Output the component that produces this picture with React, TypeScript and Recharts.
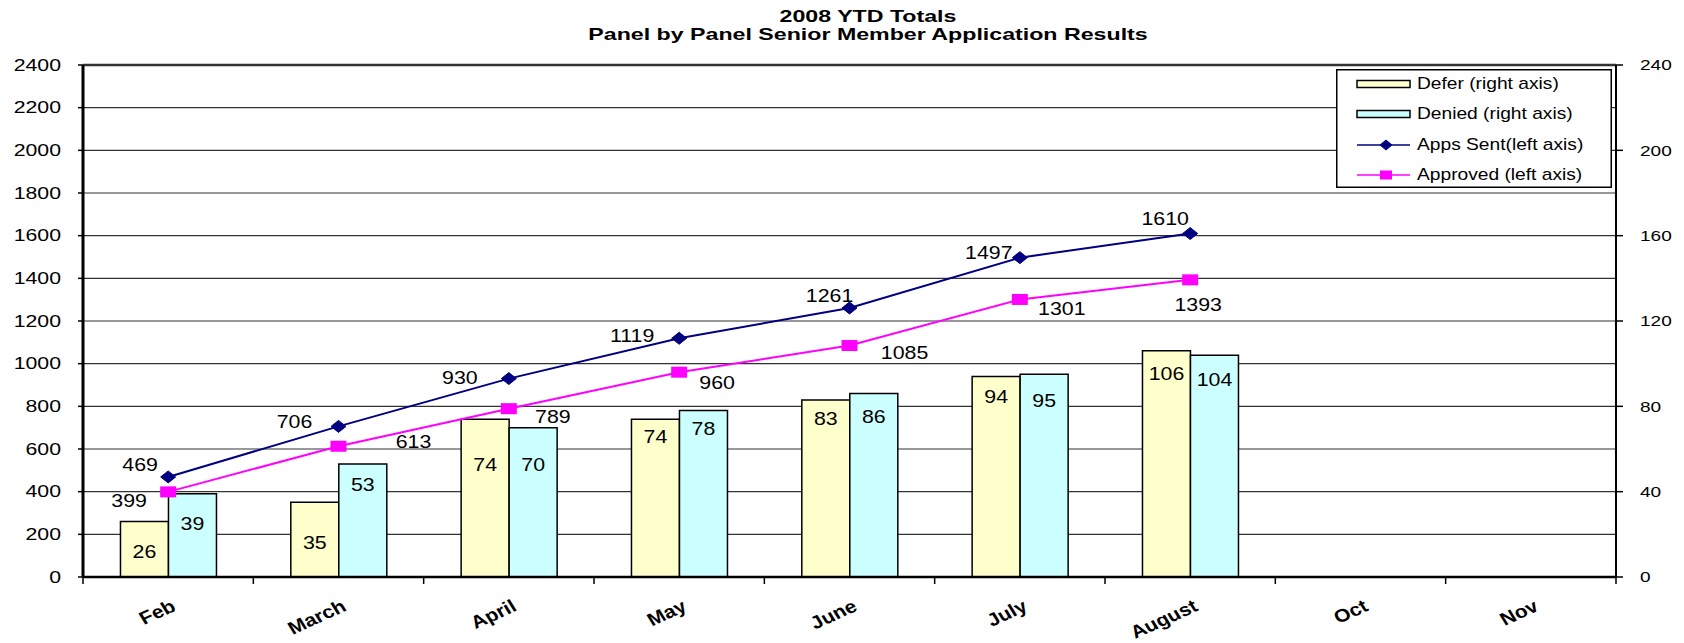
import * as React from "react";
import {
  Bar,
  CartesianGrid,
  ComposedChart,
  LabelList,
  Legend,
  Line,
  XAxis,
  YAxis,
} from "recharts";

// --- data ---
const months = ["Feb", "March", "April", "May", "June", "July", "August", "Oct", "Nov"];
const deferCounts = [26, 35, 74, 74, 83, 94, 106, null, null];
const deniedCounts = [39, 53, 70, 78, 86, 95, 104, null, null];
const appsSentTotals = [469, 706, 930, 1119, 1261, 1497, 1610, null, null];
const approvedTotals = [399, 613, 789, 960, 1085, 1301, 1393, null, null];
const leftTicks = [0, 200, 400, 600, 800, 1000, 1200, 1400, 1600, 1800, 2000, 2200, 2400];
const rightTicks = [0, 40, 80, 120, 160, 200, 240];

// label placement, the way Excel left them (px from point / bar top)
const appsLabelOffsets = [[-28, -12], [-44, -5], [-49, -1], [-47, -3], [-20, -12], [-31, -5], [-25, -15]];
const approvedLabelOffsets = [[-39, 9], [75, -5], [44, 8], [38, 11], [55, 7], [42, 9], [8, 25]];
const deferLabelDrop = [30, 40, 46, 18, 19, 20, 23];
const deniedLabelDrop = [30, 21, 37, 18, 23, 26, 25];

const data = months.map((m, i) => ({
  month: m,
  defer: deferCounts[i],
  denied: deniedCounts[i],
  appsSent: appsSentTotals[i],
  approved: approvedTotals[i],
}));

const W = 1684;
const H = 643;
const PLOT_LEFT = 83;
const PLOT_RIGHT = 1616;
const PLOT_TOP = 65;
const PLOT_BOTTOM = 577;
const BAND = (PLOT_RIGHT - PLOT_LEFT) / months.length;
const FONT = '"Liberation Sans", Arial, sans-serif';

const DEFER = "#FFFFCC";
const DENIED = "#CCFFFF";
const NAVY = "#000080";
const MAGENTA = "#FF00FF";

// Excel output is stretched sideways, so text gets a horizontal scale
function SText({ x, y, sx, size, bold, anchor = "middle", children }: any) {
  return (
    <text
      transform={`translate(${x},${y}) scale(${sx},1)`}
      x={0}
      y={0}
      textAnchor={anchor}
      dominantBaseline="central"
      fontFamily={FONT}
      fontSize={size}
      fontWeight={bold ? "bold" : "normal"}
      fill="#000"
    >
      {children}
    </text>
  );
}

function LeftTick({ x, y, payload }: any) {
  return <SText x={x} y={y} sx={1.33} size={16} anchor="end">{payload.value}</SText>;
}

function RightTick({ x, y, payload }: any) {
  return <SText x={x} y={y} sx={1.27} size={15} anchor="start">{payload.value}</SText>;
}

function MonthTick({ x, y, payload, index }: any) {
  const left = x - BAND / 2;
  return (
    <g>
      <line x1={left} y1={y} x2={left} y2={y + 7} stroke="#000" strokeWidth={1.5} />
      {index === months.length - 1 && (
        <line x1={x + BAND / 2} y1={y} x2={x + BAND / 2} y2={y + 7} stroke="#000" strokeWidth={1.5} />
      )}
      <text
        transform={`translate(${x + 9},${y + 33}) scale(1.17,1) rotate(-28)`}
        textAnchor="end"
        fontFamily={FONT}
        fontSize={18}
        fontWeight="bold"
        fill="#000"
      >
        {payload.value}
      </text>
    </g>
  );
}

function Diamond({ cx, cy, index, w = 15, h = 12 }: any) {
  if (cx == null || cy == null) return <g key={`dd-${index}`} />;
  return (
    <path
      key={`dd-${index}`}
      d={`M${cx},${cy - h / 2} L${cx + w / 2},${cy} L${cx},${cy + h / 2} L${cx - w / 2},${cy} Z`}
      fill={NAVY}
      stroke={NAVY}
    />
  );
}

function Square({ cx, cy, index, w = 16, h = 11 }: any) {
  if (cx == null || cy == null) return <g key={`sq-${index}`} />;
  return <rect key={`sq-${index}`} x={cx - w / 2} y={cy - h / 2} width={w} height={h} fill={MAGENTA} />;
}

const barLabel = (drops: number[]) => (p: any) => {
  const { x, y, width, value, index } = p;
  if (value == null) return null;
  return (
    <SText key={`bl-${index}`} x={x + width / 2} y={y + drops[index]} sx={1.22} size={17.5}>
      {value}
    </SText>
  );
};

const lineLabel = (offsets: number[][]) => (p: any) => {
  const { x, y, value, index } = p;
  if (value == null || x == null) return null;
  const [dx, dy] = offsets[index];
  return (
    <SText key={`ll-${index}`} x={x + dx} y={y + dy} sx={1.22} size={17.5}>
      {value}
    </SText>
  );
};

const legendRows = [
  { name: "Defer (right axis)", kind: "bar", color: DEFER },
  { name: "Denied (right axis)", kind: "bar", color: DENIED },
  { name: "Apps Sent(left axis)", kind: "diamond", color: NAVY },
  { name: "Approved (left axis)", kind: "square", color: MAGENTA },
];

function LegendBox() {
  const rowY = [15, 45, 76, 106];
  return (
    <svg width={276} height={120} style={{ display: "block" }}>
      <rect x={0.75} y={0.75} width={274.5} height={117.5} fill="#fff" stroke="#000" strokeWidth={1.5} />
      {legendRows.map((r, i) => {
        const cy = rowY[i];
        return (
          <g key={r.name}>
            {r.kind === "bar" ? (
              <rect x={21} y={cy - 3.5} width={53} height={7} fill={r.color} stroke="#000" strokeWidth={1.5} />
            ) : (
              <line x1={21} y1={cy} x2={74} y2={cy} stroke={r.color} strokeWidth={1.5} />
            )}
            {r.kind === "diamond" && <Diamond cx={50} cy={cy} w={12} h={10} />}
            {r.kind === "square" && <Square cx={50} cy={cy} w={12} h={9} />}
            <SText x={81} y={cy} sx={1.2} size={16} anchor="start">{r.name}</SText>
          </g>
        );
      })}
    </svg>
  );
}

function GridLine(props: any) {
  const { x1, y1, x2, y2, index } = props;
  return (
    <line
      key={`g-${index}-${y1}`}
      x1={x1}
      y1={y1}
      x2={x2}
      y2={y2}
      stroke="#333"
      strokeWidth={y1 < PLOT_TOP + 2 ? 2.5 : 1.2}
    />
  );
}

export default function App() {
  return (
    <div style={{ position: "relative", width: W, height: H, background: "#fff" }}>
      <style>{"body{margin:0;}"}</style>
      <ComposedChart
        width={W}
        height={H}
        data={data}
        margin={{ top: PLOT_TOP, right: 0, bottom: 0, left: 0 }}
        barCategoryGap="22%"
        barGap={0}
      >
        <CartesianGrid yAxisId="left" vertical={false} horizontal={GridLine} />
        <XAxis
          dataKey="month"
          interval={0}
          height={H - PLOT_BOTTOM}
          tickSize={0}
          tickMargin={0}
          tickLine={false}
          axisLine={{ stroke: "#000", strokeWidth: 2.5 }}
          tick={<MonthTick />}
        />
        <YAxis
          yAxisId="left"
          width={PLOT_LEFT}
          domain={[0, 2400]}
          ticks={leftTicks}
          interval={0}
          tickSize={5}
          tickMargin={17}
          axisLine={{ stroke: "#000", strokeWidth: 3 }}
          tickLine={{ stroke: "#000", strokeWidth: 1.5 }}
          tick={<LeftTick />}
        />
        <YAxis
          yAxisId="right"
          orientation="right"
          width={W - PLOT_RIGHT}
          domain={[0, 240]}
          ticks={rightTicks}
          interval={0}
          tickSize={7}
          tickMargin={17}
          axisLine={{ stroke: "#000", strokeWidth: 2 }}
          tickLine={{ stroke: "#000", strokeWidth: 1.5 }}
          tick={<RightTick />}
        />
        <Legend
          layout="vertical"
          align="center"
          verticalAlign="middle"
          content={<LegendBox />}
          wrapperStyle={{ left: 1336, top: 69, width: 276, height: 120 }}
        />
        <Bar yAxisId="right" dataKey="defer" name="Defer (right axis)" fill={DEFER} stroke="#000" strokeWidth={1.5} isAnimationActive={false}>
          <LabelList dataKey="defer" content={barLabel(deferLabelDrop)} />
        </Bar>
        <Bar yAxisId="right" dataKey="denied" name="Denied (right axis)" fill={DENIED} stroke="#000" strokeWidth={1.5} isAnimationActive={false}>
          <LabelList dataKey="denied" content={barLabel(deniedLabelDrop)} />
        </Bar>
        <Line
          yAxisId="left"
          type="linear"
          dataKey="appsSent"
          name="Apps Sent(left axis)"
          stroke={NAVY}
          strokeWidth={2}
          dot={<Diamond />}
          activeDot={false}
          isAnimationActive={false}
        >
          <LabelList dataKey="appsSent" content={lineLabel(appsLabelOffsets)} />
        </Line>
        <Line
          yAxisId="left"
          type="linear"
          dataKey="approved"
          name="Approved (left axis)"
          stroke={MAGENTA}
          strokeWidth={2}
          dot={<Square />}
          activeDot={false}
          isAnimationActive={false}
        >
          <LabelList dataKey="approved" content={lineLabel(approvedLabelOffsets)} />
        </Line>
      </ComposedChart>
      <svg width={W} height={50} style={{ position: "absolute", left: 0, top: 0, pointerEvents: "none" }}>
        <SText x={868} y={16.5} sx={1.45} size={16} bold>2008 YTD Totals</SText>
        <SText x={868} y={34.5} sx={1.45} size={16} bold>Panel by Panel Senior Member Application Results</SText>
      </svg>
    </div>
  );
}
